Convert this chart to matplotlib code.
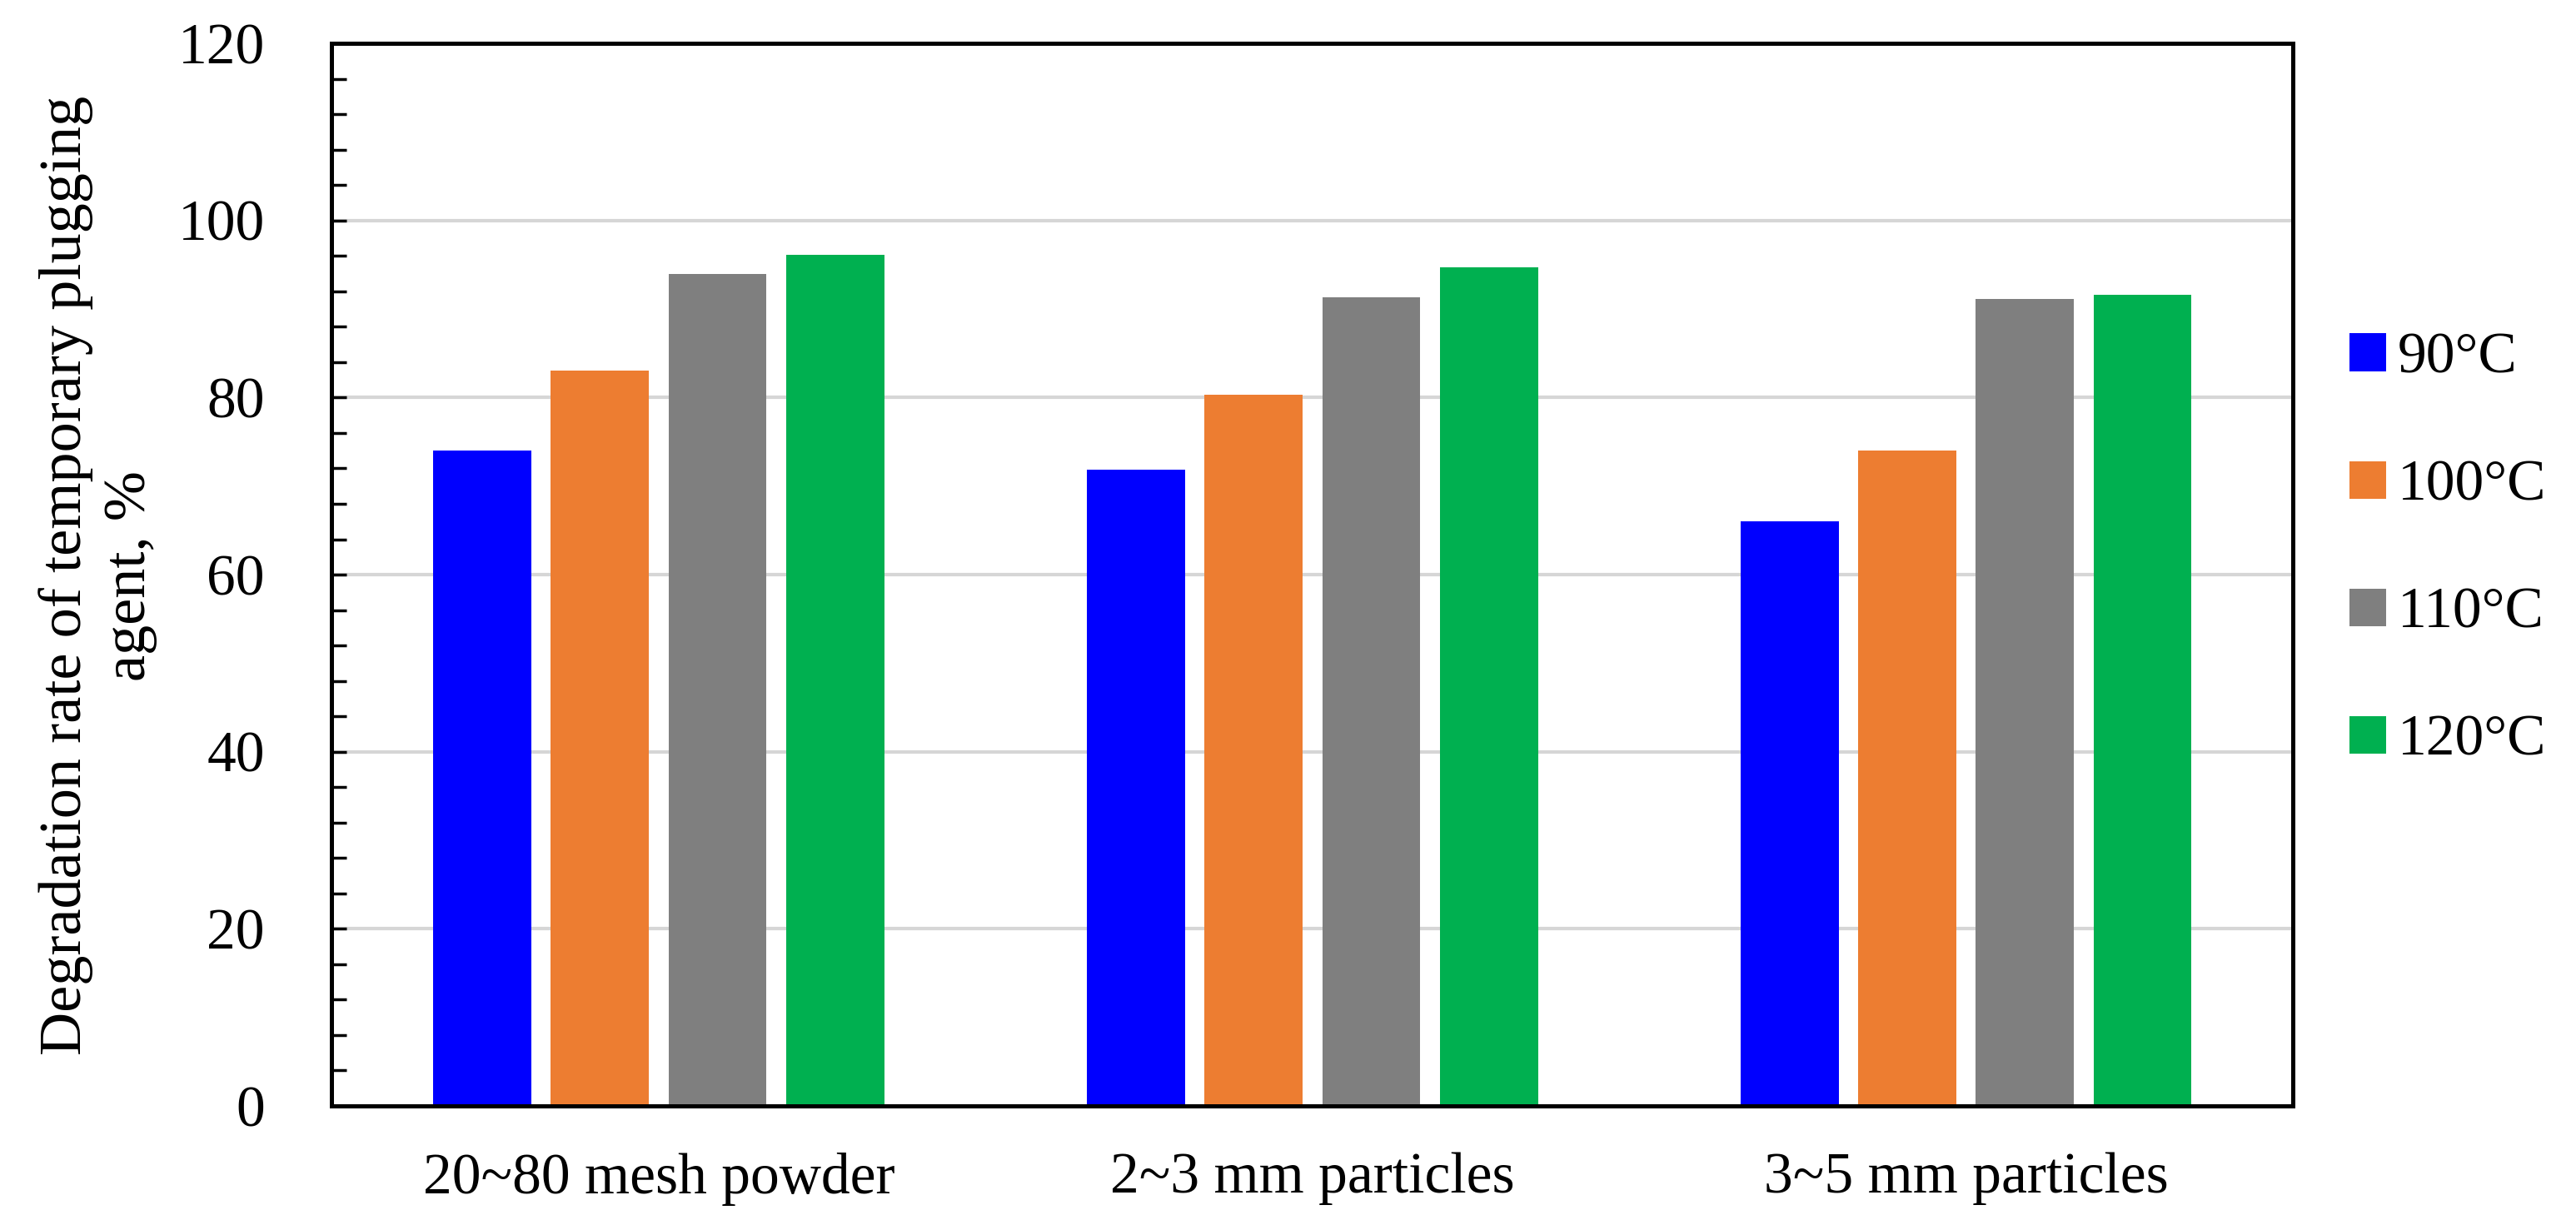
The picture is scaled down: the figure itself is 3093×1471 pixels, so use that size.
import numpy as np
import matplotlib
matplotlib.use('Agg')
import matplotlib.pyplot as plt
from matplotlib.ticker import MultipleLocator

# data
categories = ['20~80 mesh powder', '2~3 mm particles', '3~5 mm particles']
temps = ['90\u00b0C', '100\u00b0C', '110\u00b0C', '120\u00b0C']
rate_90 = [74.0, 71.9, 66.0]
rate_100 = [83.0, 80.3, 74.0]
rate_110 = [94.0, 91.3, 91.1]
rate_120 = [96.1, 94.7, 91.6]
colors = ['#0000FF', '#ED7D31', '#7F7F7F', '#00B050']

plt.rcParams['font.family'] = ['Liberation Serif', 'DejaVu Serif']
plt.rcParams['font.size'] = 50

fig = plt.figure(figsize=(30.93, 14.71), dpi=100)
ax = fig.add_axes([0.1288, 0.0972, 0.7613, 0.8674])

x = np.arange(len(categories))
offsets = [-0.27, -0.09, 0.09, 0.27]
series = [rate_90, rate_100, rate_110, rate_120]
for off, vals, c, lab in zip(offsets, series, colors, temps):
    ax.bar(x + off, vals, width=0.15, color=c, label=lab, zorder=3)

ax.set_xlim(-0.5, 2.5)
ax.set_ylim(0, 120)
ax.set_xticks(x)
ax.set_xticklabels(categories)
ax.yaxis.set_major_locator(MultipleLocator(20))
ax.yaxis.set_minor_locator(MultipleLocator(4))

# light gray gridlines, none on the top spine
for g in [20, 40, 60, 80, 100]:
    ax.axhline(g, color='#d6d6d6', lw=3, zorder=1)

ax.tick_params(axis='y', which='both', direction='in', length=13, width=2.5, pad=58)
ax.tick_params(axis='x', length=0, pad=40)
for s in ax.spines.values():
    s.set_linewidth(3.6)
    s.set_color('black')
    s.set_zorder(4)

fig.text(0.038, 0.530, 'Degradation rate of temporary plugging\nagent, %',
         rotation=90, ha='center', va='center', multialignment='center',
         linespacing=1.25, fontsize=52)

ax.legend(loc='center left', bbox_to_anchor=(0.912, 0.551), bbox_transform=fig.transFigure,
          frameon=False, handlelength=0.63, handleheight=0.63, handletextpad=0.2,
          labelspacing=1.29, borderpad=0, borderaxespad=0)

fig.savefig('out.png', dpi=100)
